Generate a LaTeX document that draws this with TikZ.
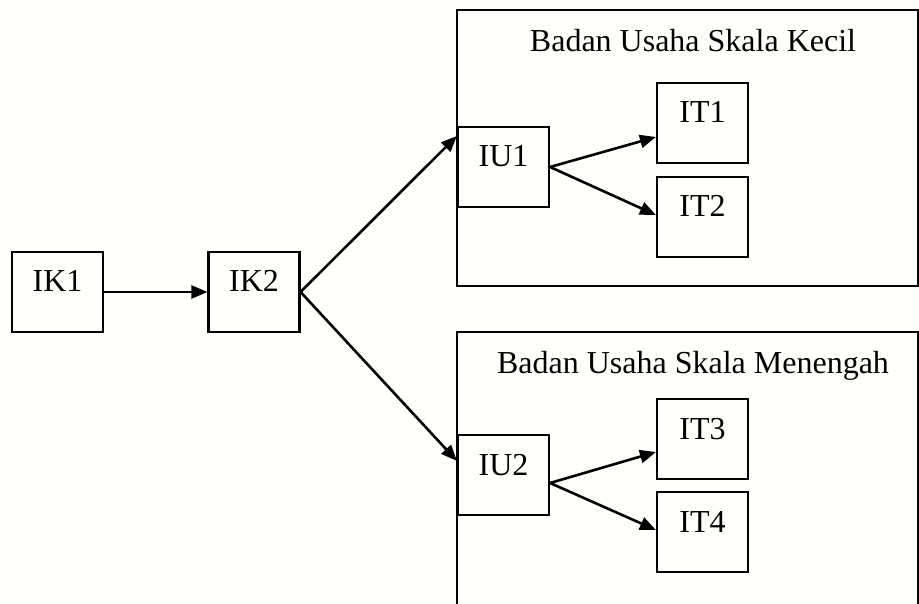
\documentclass[tikz,border=0pt]{standalone}
\usepackage{fontspec}
\setmainfont{Liberation Serif}
\usetikzlibrary{arrows.meta,calc}
\begin{document}
\begin{tikzpicture}[x=1pt,y=-1pt,
  every node/.style={font=\fontsize{32}{38}\selectfont},
  smallbox/.style={draw, line width=2.1pt, inner sep=0pt, minimum width=91pt,
    text height=40pt, text depth=40pt, align=center},
  groupbox/.style={draw, line width=2.1pt, inner sep=0pt},
  conn/.style={line width=2.6pt, -{Triangle[length=16pt,width=13pt]}}]
\fill[white!97!yellow!40!white] (0,0) rectangle (919,604);
\useasboundingbox (0,0) rectangle (919,604);
\clip (0,0) rectangle (919,604);
% group boxes
\node[groupbox, minimum width=461pt, minimum height=276pt] (g1) at (687.5,148) {};
\node[groupbox, minimum width=461pt, minimum height=288pt] (g2) at (687.5,476) {};
\node[anchor=base] (t1) at (693,52) {Badan Usaha Skala Kecil};
\node[anchor=base] (t2) at (693,373) {Badan Usaha Skala Menengah};
% small boxes
\node[smallbox] (ik1) at (57.5,292) {IK1};
\node[smallbox] (ik2) at (254,292) {IK2};
\node[smallbox] (iu1) at (503.5,167) {IU1};
\node[smallbox] (iu2) at (503.5,475) {IU2};
\node[smallbox] (it1) at (702.5,123) {IT1};
\node[smallbox] (it2) at (702.5,217) {IT2};
\node[smallbox] (it3) at (702.5,439) {IT3};
\node[smallbox] (it4) at (702.5,532) {IT4};
% connectors
\draw[conn] (ik1.east) -- (ik2.west);
\draw[conn] (ik2.east) -- ($(iu1.north west)+(0,10)$);
\draw[conn] (ik2.east) -- ($(iu2.north west)+(0,27)$);
\draw[conn] (iu1.east) -- ($(it1.west)+(0,14)$);
\draw[conn] (iu1.east) -- ($(it2.west)+(0,-2)$);
\draw[conn] ($(iu2.east)+(0,8)$) -- ($(it3.west)+(0,13)$);
\draw[conn] ($(iu2.east)+(0,8)$) -- ($(it4.west)+(0,-2)$);
\end{tikzpicture}
\end{document}
